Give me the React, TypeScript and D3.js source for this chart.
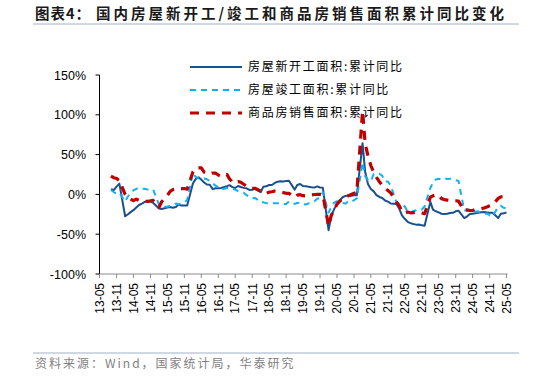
import React from "react";
import * as d3 from "d3";

// ---------- data ----------
const startYear = 2013;
const startMonth = 9; // first observation: 2013-09
const endYear = 2025;
const endMonth = 5;

// monthly observations (Jan is merged into Feb in the source data)
const months: Date[] = (() => {
  const out: Date[] = [];
  for (let y = startYear; y <= endYear; y++) {
    for (let m = 2; m <= 12; m++) {
      if (y === startYear && m < startMonth) continue;
      if (y === endYear && m > endMonth) continue;
      out.push(new Date(y, m - 1, 1));
    }
  }
  return out;
})();

// 房屋新开工面积:累计同比 (%)
const newStarts: number[] = [
  6.5, 5.5, 9.8, 13.5,
  -27.4, -25.2, -22.3, -19.8, -16.4, -13.3, -11.6, -9.3, -8.9, -9.0, -10.7,
  -17.7, -18.4, -17.3, -16.5, -15.8, -16.8, -15.8, -12.6, -13.9, -14.0, -14.0,
  13.7, 19.2, 21.4, 18.6, 14.9, 12.4, 12.2, 6.6, 7.7, 7.6, 8.1,
  10.4, 11.6, 9.1, 8.1, 10.6, 9.3, 8.2, 7.6, 5.6, 5.7, 7.0,
  2.9, 9.7, 10.1, 11.8, 11.8, 14.4, 15.9, 16.4, 16.3, 16.8, 17.2,
  6.0, 11.9, 13.1, 10.5, 10.1, 9.5, 8.9, 8.6, 10.0, 8.6, 8.5,
  -44.9, -27.2, -18.4, -12.8, -7.6, -3.6, -1.9, -1.4, -1.6, -1.0, -1.2,
  64.3, 28.2, 12.8, 6.9, 3.8, -0.9, -3.2, -4.5, -7.7, -9.1, -11.4,
  -12.2, -17.5, -26.3, -30.6, -34.4, -36.1, -37.2, -38.0, -37.8, -38.9, -39.4,
  -9.4, -19.2, -21.2, -22.6, -24.3, -24.5, -24.4, -23.4, -23.2, -21.2, -20.4,
  -29.7, -27.8, -24.6, -24.2, -23.7, -23.2, -22.5, -22.2, -22.6, -23.0, -23.0,
  -29.6, -24.4, -23.8, -22.8,
];

// 房屋竣工面积:累计同比 (%)
const completions: number[] = [
  5.5, 3.0, 1.0, 2.0,
  -9.0, -3.0, 2.0, 5.0, 7.0, 8.0, 7.0, 7.0, 6.0, 7.0, 5.9,
  -13.0, -15.4, -15.4, -15.5, -14.3, -13.0, -11.5, -12.3, -11.4, -10.2, -6.9,
  27.0, 22.0, 20.0, 19.0, 20.0, 19.0, 17.0, 14.0, 11.0, 9.0, 6.1,
  8.0, 8.0, 7.0, 6.0, 4.0, 3.0, 2.0, -1.0, -3.0, -5.0, -4.4,
  -10.0, -10.0, -11.0, -11.0, -11.0, -11.0, -11.0, -12.0, -12.0, -12.0, -9.0,
  -11.9, -10.8, -10.3, -12.4, -12.7, -11.3, -10.0, -8.6, -5.5, -4.5, 2.6,
  -22.9, -15.8, -10.3, -8.6, -10.5, -10.9, -11.6, -8.4, -9.2, -7.3, -4.9,
  40.4, 22.9, 17.9, 16.4, 25.7, 25.7, 26.0, 23.4, 16.3, 16.2, 11.2,
  -9.9, -11.5, -11.9, -15.3, -21.5, -23.3, -21.1, -19.9, -18.7, -19.0, -15.0,
  8.0, 14.7, 18.8, 19.6, 19.0, 20.5, 19.2, 19.8, 19.0, 17.9, 17.0,
  -20.2, -20.7, -20.4, -19.2, -21.8, -21.3, -23.6, -24.4, -23.9, -26.2, -27.7,
  -15.6, -14.3, -16.9, -17.3,
];

// 商品房销售面积:累计同比 (%)
const sales: number[] = [
  23.0, 21.0, 20.0, 17.3,
  -0.1, -3.8, -6.0, -7.8, -6.0, -7.6, -8.3, -8.6, -8.7, -8.2, -7.6,
  -16.3, -9.2, -5.3, -1.3, 3.9, 6.1, 7.2, 7.5, 7.2, 7.4, 6.5,
  28.2, 33.1, 33.2, 33.2, 27.9, 26.4, 25.5, 26.9, 26.8, 24.3, 22.5,
  25.1, 19.5, 15.7, 14.3, 16.1, 15.3, 12.7, 10.3, 8.2, 7.9, 7.7,
  4.1, 3.6, 1.3, 2.9, 3.3, 4.2, 4.0, 2.9, 2.2, 1.4, 1.3,
  -3.6, -0.9, -0.3, -1.6, -1.8, -1.3, -0.6, -0.1, 0.1, 0.2, -0.1,
  -39.9, -26.3, -19.3, -12.3, -8.4, -5.8, -3.3, -1.8, 0.0, 1.3, 2.6,
  104.9, 63.8, 48.1, 36.3, 27.7, 21.5, 15.9, 11.3, 7.5, 4.8, 1.9,
  -9.6, -13.8, -20.9, -23.6, -22.2, -23.1, -23.0, -22.2, -22.3, -23.3, -24.3,
  -3.6, -1.8, -0.4, -0.9, -5.3, -6.5, -7.1, -7.5, -7.8, -8.0, -8.5,
  -20.5, -19.4, -20.2, -20.3, -19.0, -18.6, -18.0, -17.1, -15.8, -14.3, -12.9,
  -5.1, -3.0, -2.8, -2.9,
];

const yTicks = [150, 100, 50, 0, -50, -100];
const seriesNames = ["房屋新开工面积:累计同比", "房屋竣工面积:累计同比", "商品房销售面积:累计同比"];
const titleLead = "图表4：";
const titleText = "国内房屋新开工/竣工和商品房销售面积累计同比变化";
const sourceText = "资料来源：Wind，国家统计局，华泰研究";

// ---------- styles ----------
const styles = [
  { color: "#1b4f8f", width: 2, dash: "" },
  { color: "#12b0ee", width: 2, dash: "6,5" },
  { color: "#c00000", width: 3.2, dash: "9,7" },
];

export default function App() {
  const left = 99.5;
  const right = 506.5;
  const top = 75;
  const bottom = 274;

  const x = d3
    .scaleTime()
    .domain([new Date(2013, 4, 1), new Date(2025, 4, 1)])
    .range([left, right]);
  const y = d3.scaleLinear().domain([-100, 150]).range([bottom, top]);

  const xTicks: Date[] = d3.timeMonth.range(new Date(2013, 4, 1), new Date(2025, 4, 2), 6);
  const fmt = d3.timeFormat("%y-%m");

  const line = d3
    .line<number>()
    .x((_, i) => x(months[i]))
    .y((d) => y(d));

  const allSeries = [newStarts, completions, sales];
  const cjk = '"Noto Sans CJK SC", sans-serif';
  const latin = '"Liberation Sans", Arial, sans-serif';

  return (
    <svg
      width={534}
      height={377}
      style={{ position: "absolute", left: 0, top: 0, background: "#fff" }}
    >
      {/* title */}
      <text x={35} y={19} fontFamily={cjk} fontWeight={700} fontSize={14.5} fill="#1a1a1a" letterSpacing={1}>
        {titleLead}
      </text>
      <text x={96} y={19} fontFamily={cjk} fontWeight={700} fontSize={14.5} fill="#1a1a1a" letterSpacing={3}>
        {titleText}
      </text>
      <line x1={33} x2={519} y1={24} y2={24} stroke="#9fb0c6" strokeWidth={1} />

      {/* y axis */}
      <line x1={left} x2={left} y1={top} y2={bottom} stroke="#000" strokeWidth={1} />
      {yTicks.map((t) => (
        <g key={t}>
          <line x1={left - 4} x2={left} y1={y(t)} y2={y(t)} stroke="#000" />
          <text
            x={86}
            y={y(t)}
            dy="0.36em"
            textAnchor="end"
            fontFamily={latin}
            fontSize={12.5}
            fill="#000"
          >
            {t}%
          </text>
        </g>
      ))}

      {/* x axis */}
      <line x1={left} x2={right + 1} y1={bottom} y2={bottom} stroke="#8c8c8c" strokeWidth={1.2} />
      {xTicks.map((d) => {
        const px = x(d);
        return (
          <g key={+d}>
            <line x1={px} x2={px} y1={bottom} y2={bottom + 4} stroke="#8c8c8c" />
            <text
              transform={`translate(${px},${bottom + 9}) rotate(-90)`}
              textAnchor="end"
              dy="0.36em"
              fontFamily={latin}
              fontSize={12}
              fill="#000"
            >
              {fmt(d)}
            </text>
          </g>
        );
      })}

      {/* series */}
      {allSeries.map((s, i) => (
        <path
          key={i}
          d={line(s) || ""}
          fill="none"
          stroke={styles[i].color}
          strokeWidth={styles[i].width}
          strokeDasharray={styles[i].dash}
          strokeLinejoin="round"
        />
      ))}

      {/* legend */}
      {seriesNames.map((n, i) => {
        const ly = 67 + i * 23;
        return (
          <g key={n}>
            <line
              x1={190}
              x2={242}
              y1={ly}
              y2={ly}
              stroke={styles[i].color}
              strokeWidth={styles[i].width}
              strokeDasharray={styles[i].dash}
            />
            <text x={248} y={ly} dy="0.36em" fontFamily={cjk} fontSize={12} fill="#000" letterSpacing={1.7}>
              {n}
            </text>
          </g>
        );
      })}

      {/* source */}
      <line x1={33} x2={519} y1={353} y2={353} stroke="#9fb0c6" strokeWidth={1} />
      <text x={35} y={364} dy="0.36em" fontFamily={cjk} fontSize={12} fill="#7f7f7f" letterSpacing={2}>
        {sourceText}
      </text>
    </svg>
  );
}
